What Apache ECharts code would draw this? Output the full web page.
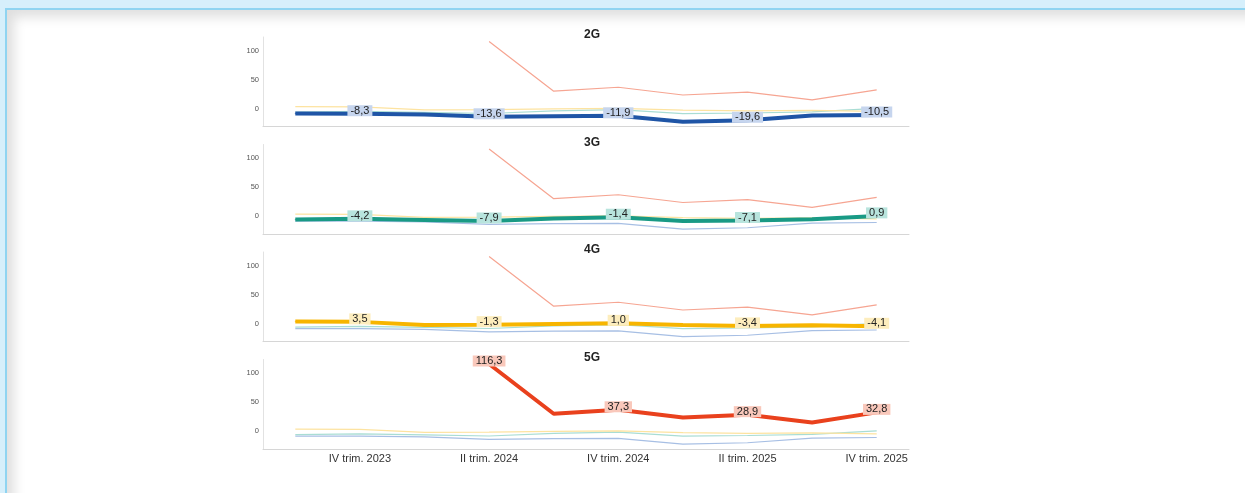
<!DOCTYPE html>
<html>
<head>
<meta charset="utf-8">
<script src="https://cdn.jsdelivr.net/npm/echarts@6/dist/echarts.min.js"></script>
<style>
    html, body {
        margin: 0;
        padding: 0;
        width: 1245px;
        height: 493px;
        overflow: hidden;
        background: #d6effb;
        font-family: 'Liberation Sans', Arial, sans-serif;
    }
    .card {
        position: absolute;
        left: 5px;
        top: 8px;
        width: 1300px;
        height: 520px;
        background: #ffffff;
        border: 2px solid #8fd4f1;
        box-shadow: inset 7px 7px 12px rgba(0, 0, 0, 0.13);
    }
    #chart {
        position: absolute;
        left: 0;
        top: 0;
        width: 1245px;
        height: 493px;
    }
</style>
</head>
<body>
<div class="card"></div>
<div id="chart"></div>
<script>
// Quarterly variation (%) by technology
const categories = [
    'III trim. 2023', 'IV trim. 2023', 'I trim. 2024', 'II trim. 2024', 'III trim. 2024',
    'IV trim. 2024', 'I trim. 2025', 'II trim. 2025', 'III trim. 2025', 'IV trim. 2025'
];
const seriesNames = ['2G', '3G', '4G', '5G'];
const values2G = [-8.0, -8.3, -9.5, -13.6, -12.5, -11.9, -22.0, -19.6, -11.5, -10.5];
const values3G = [-5.5, -4.2, -6.0, -7.9, -3.5, -1.4, -8.0, -7.1, -5.0, 0.9];
const values4G = [4.0, 3.5, -1.7, -1.3, 0.0, 1.0, -2.0, -3.4, -2.5, -4.1];
const values5G = [null, null, null, 116.3, 30.5, 37.3, 24.0, 28.9, 15.5, 32.8];
const yTickValues = [0, 50, 100];

document.addEventListener('DOMContentLoaded', function() {
    initializeChart();
});

function formatValue(v) {
    return v.toFixed(1).replace('.', ',');
}

function initializeChart() {
    const chart = echarts.init(document.getElementById('chart'));
    const allValues = [values2G, values3G, values4G, values5G];
    const strongColors = ['#1f55a6', '#199a85', '#f7b500', '#e9411d'];
    const lightColors = ['#a7bfe4', '#a9ddd4', '#fde3a0', '#f6a592'];
    const labelBg = ['#c6d5ee', '#b8e4dd', '#fdedbd', '#f9c8bb'];

    const panelTop = 37;
    const panelStep = 107.5;
    const panelHeight = 89.3;

    const grids = [];
    const xAxes = [];
    const yAxes = [];
    const titles = [];
    const series = [];

    seriesNames.forEach((name, p) => {
        const top = panelTop + p * panelStep;
        grids.push({ left: 263, width: 646, top: top, height: panelHeight });
        titles.push({
            text: name,
            left: 579,
            top: top - 13,
            textStyle: { fontSize: 12, fontWeight: 'bold', color: '#222', fontFamily: 'Liberation Sans' }
        });
        xAxes.push({
            type: 'category',
            gridIndex: p,
            data: categories,
            boundaryGap: true,
            axisLine: { onZero: false, lineStyle: { color: '#d6d6d6' } },
            axisTick: { show: false },
            axisLabel: {
                show: p === 3,
                interval: (i) => i % 2 === 1,
                color: '#333',
                fontSize: 11,
                margin: 5,
                fontFamily: 'Liberation Sans'
            }
        });
        yAxes.push({
            type: 'value',
            gridIndex: p,
            min: -30,
            max: 124,
            axisLine: { show: true, lineStyle: { color: '#e2e2e2' } },
            axisTick: { show: false },
            splitLine: { show: false },
            axisLabel: {
                customValues: yTickValues,
                color: '#555',
                fontSize: 7.5,
                margin: 4,
                fontFamily: 'Liberation Sans'
            }
        });

        // background (thin) lines first, highlighted series on top
        seriesNames.forEach((other, s) => {
            if (s === p) return;
            series.push({
                name: other,
                type: 'line',
                xAxisIndex: p,
                yAxisIndex: p,
                data: allValues[s],
                showSymbol: false,
                lineStyle: { color: lightColors[s], width: 1.2 },
                itemStyle: { color: lightColors[s] },
                silent: true,
                z: 2
            });
        });

        series.push({
            name: name,
            type: 'line',
            xAxisIndex: p,
            yAxisIndex: p,
            data: allValues[p].map((v, i) => ({
                value: v,
                label: { show: v !== null && i % 2 === 1 }
            })),
            symbol: 'circle',
            symbolSize: 1,
            showSymbol: true,
            lineStyle: { color: strongColors[p], width: 4 },
            itemStyle: { color: strongColors[p] },
            label: {
                position: 'inside',
                offset: [0, -3],
                formatter: (d) => formatValue(d.value),
                color: '#222',
                fontSize: 11,
                fontFamily: 'Liberation Sans',
                backgroundColor: labelBg[p],
                padding: [0, 3]
            },
            z: 5
        });
    });

    chart.setOption({
        animation: false,
        backgroundColor: 'transparent',
        title: titles,
        grid: grids,
        xAxis: xAxes,
        yAxis: yAxes,
        series: series
    });
}
</script>
</body>
</html>
